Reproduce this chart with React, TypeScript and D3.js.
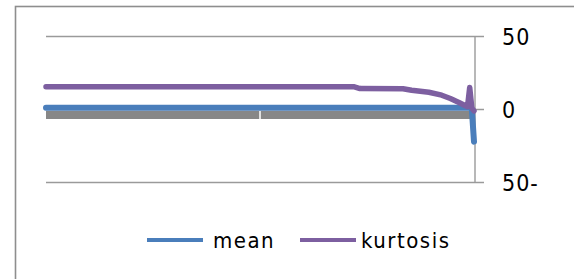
import React from 'react';
import * as d3 from 'd3';

const W = 574;
const H = 279;
const PLOT = { left: 46, right: 474, top: 36.5, bottom: 182.5 };
const N = 200;

// [category index, value]
const meanData: [number, number][] = [[0, 1.2], [197, 1.2], [198, 0], [199, -22]];
const kurtosisData: [number, number][] = [
  [0, 15.6], [143, 15.6], [146, 14.3], [166, 14.2], [170, 13.2], [178, 11.8],
  [184, 9.8], [188, 7.5], [192, 4.8], [195, 2.6], [196, 2], [197, 15], [198, 1], [199, -1],
];
const baseData: [number, number][] = [[0, -3.8], [199, -3.8]];
const yTicks = [50, 0, -50];
const yTickLabels = ['50', '0', '50-'];
const legendItems = [
  { name: 'mean', color: '#4a7ebb' },
  { name: 'kurtosis', color: '#7d5fa0' },
];

const FONT = "'DejaVu Sans Condensed', 'DejaVu Sans', sans-serif";

export default function App() {
  const x = d3.scaleLinear().domain([0, N - 1]).range([PLOT.left, PLOT.right]);
  const y = d3.scaleLinear().domain([-50, 50]).range([PLOT.bottom, PLOT.top]);
  const line = d3.line<[number, number]>().x(d => x(d[0])).y(d => y(d[1]));
  const axisX = 475;
  const midX = x((N - 1) / 2);

  return (
    <svg width={W} height={H} style={{ position: 'absolute', left: 0, top: 0, background: '#fff' }}>
      <rect x={15.5} y={6.5} width={700} height={400} fill="#fff" stroke="#8e8e8e" strokeWidth={1.6} />

      {/* gridlines + ticks */}
      {yTicks.map(t => (
        <line key={'g' + t} x1={PLOT.left} x2={axisX + 9} y1={y(t)} y2={y(t)} stroke="#9a9a9a" strokeWidth={1.4} />
      ))}
      <line x1={axisX} x2={axisX} y1={y(50)} y2={y(-50)} stroke="#9a9a9a" strokeWidth={1.4} />

      {/* series */}
      <path d={line(baseData) || ''} fill="none" stroke="#878787" strokeWidth={8} />
      <line x1={midX} x2={midX} y1={y(-3.8) - 4} y2={y(-3.8) + 4} stroke="#fff" strokeWidth={1.5} />
      <path d={line(meanData) || ''} fill="none" stroke="#4a7ebb" strokeWidth={6} strokeLinecap="round" strokeLinejoin="round" />
      <path d={line(kurtosisData) || ''} fill="none" stroke="#7d5fa0" strokeWidth={5.5} strokeLinecap="round" strokeLinejoin="round" />

      {/* right axis labels */}
      {yTicks.map((t, i) => (
        <text key={'l' + t} x={502} y={y(t)} dy="0.36em" fontFamily={FONT} fontSize={23}
          style={{ fontStretch: 'condensed', letterSpacing: '1px' }} fill="#000">{yTickLabels[i]}</text>
      ))}

      {/* legend */}
      {legendItems.map((d, i) => {
        const lx = i === 0 ? 147 : 300;
        return (
          <g key={d.name}>
            <line x1={lx} x2={lx + 56} y1={240} y2={240} stroke={d.color} strokeWidth={4} />
            <text x={lx + 66 - (i === 0 ? 0 : 5)} y={248} fontFamily={FONT} fontSize={22}
              style={{ fontStretch: 'condensed', letterSpacing: '1.5px' }} fill="#000">{d.name}</text>
          </g>
        );
      })}
    </svg>
  );
}
